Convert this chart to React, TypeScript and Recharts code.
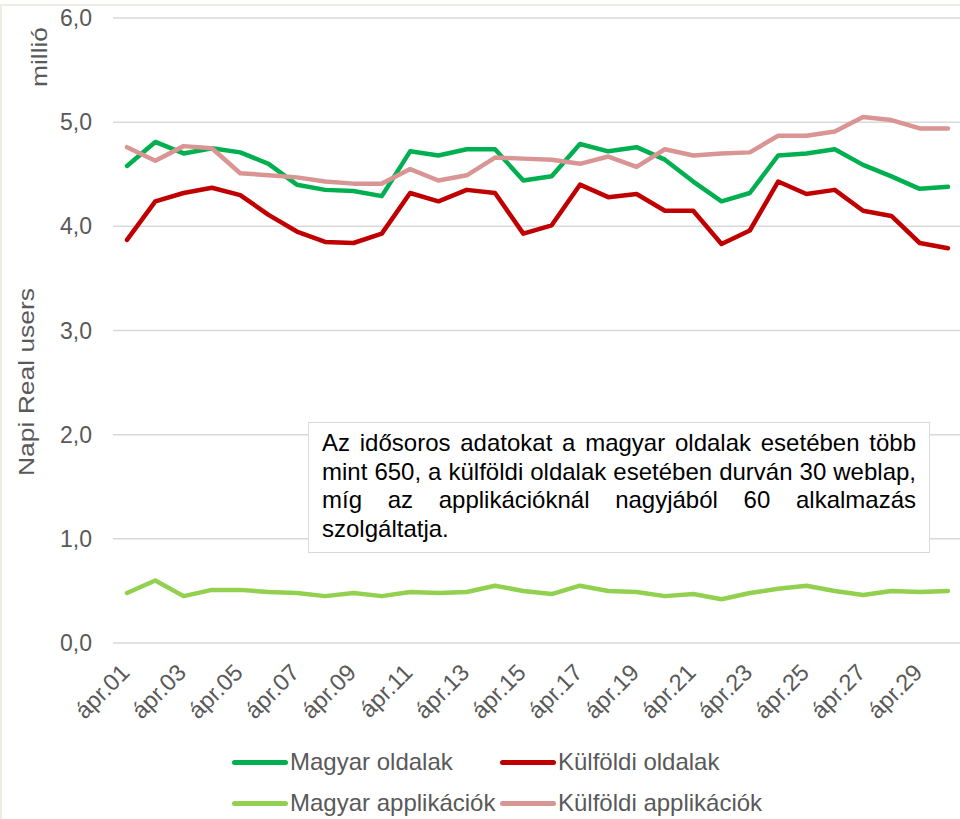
import { CartesianGrid, Legend, Line, LineChart, XAxis, YAxis } from 'recharts'

const days = [
  'ápr.01', 'ápr.02', 'ápr.03', 'ápr.04', 'ápr.05', 'ápr.06', 'ápr.07', 'ápr.08', 'ápr.09', 'ápr.10',
  'ápr.11', 'ápr.12', 'ápr.13', 'ápr.14', 'ápr.15', 'ápr.16', 'ápr.17', 'ápr.18', 'ápr.19', 'ápr.20',
  'ápr.21', 'ápr.22', 'ápr.23', 'ápr.24', 'ápr.25', 'ápr.26', 'ápr.27', 'ápr.28', 'ápr.29', 'ápr.30',
]

const magyarOldalak = [
  4.58, 4.81, 4.7, 4.75, 4.71, 4.6, 4.4, 4.35, 4.34, 4.29,
  4.72, 4.68, 4.74, 4.74, 4.44, 4.48, 4.79, 4.72, 4.76, 4.64,
  4.43, 4.24, 4.32, 4.68, 4.7, 4.74, 4.59, 4.48, 4.36, 4.38,
]
const kulfoldiOldalak = [
  3.87, 4.24, 4.32, 4.37, 4.3, 4.11, 3.95, 3.85, 3.84, 3.93,
  4.32, 4.24, 4.35, 4.32, 3.93, 4.01, 4.4, 4.28, 4.31, 4.15,
  4.15, 3.83, 3.96, 4.43, 4.31, 4.35, 4.15, 4.1, 3.84, 3.79,
]
const magyarApp = [
  0.48, 0.6, 0.45, 0.51, 0.51, 0.49, 0.48, 0.45, 0.48, 0.45,
  0.49, 0.48, 0.49, 0.55, 0.5, 0.47, 0.55, 0.5, 0.49, 0.45,
  0.47, 0.42, 0.48, 0.52, 0.55, 0.5, 0.46, 0.5, 0.49, 0.5,
]
const kulfoldiApp = [
  4.76, 4.63, 4.77, 4.75, 4.51, 4.49, 4.47, 4.43, 4.41, 4.41,
  4.55, 4.44, 4.49, 4.66, 4.65, 4.64, 4.6, 4.67, 4.57, 4.74,
  4.68, 4.7, 4.71, 4.87, 4.87, 4.91, 5.05, 5.02, 4.94, 4.94,
]

const yTicks = [0, 1, 2, 3, 4, 5, 6]

const series = [
  { key: 'magyarOldalak', name: 'Magyar oldalak', color: '#00b050' },
  { key: 'kulfoldiOldalak', name: 'Külföldi oldalak', color: '#c00000' },
  { key: 'magyarApp', name: 'Magyar applikációk', color: '#92d050' },
  { key: 'kulfoldiApp', name: 'Külföldi applikációk', color: '#d99594' },
]

const noteLines = [
  'Az idősoros adatokat a magyar oldalak esetében több',
  'mint 650, a külföldi oldalak esetében durván 30 weblap,',
  'míg az applikációknál nagyjából 60 alkalmazás',
  'szolgáltatja.',
]

const data = days.map((d, i) => ({
  day: d,
  magyarOldalak: magyarOldalak[i],
  kulfoldiOldalak: kulfoldiOldalak[i],
  magyarApp: magyarApp[i],
  kulfoldiApp: kulfoldiApp[i],
}))

const font = '"Liberation Sans", Arial, sans-serif'
const grey = '#595959'

function DayTick({ x, y, payload }: any) {
  const tx = x + 4
  const ty = y + 31
  return (
    <text
      x={tx}
      y={ty}
      transform={`rotate(-45, ${tx}, ${ty})`}
      textAnchor="end"
      fontSize={23.5}
      fontFamily={font}
      fill={grey}
    >
      {payload.value}
    </text>
  )
}

function LegendBox() {
  return (
    <div
      style={{
        display: 'grid',
        gridTemplateColumns: '268px 300px',
        rowGap: 13,
        marginLeft: 232,
        fontFamily: font,
        fontSize: 24,
        color: grey,
        whiteSpace: 'nowrap',
      }}
    >
      {series.map((s) => (
        <div key={s.key} style={{ display: 'flex', alignItems: 'center', height: 28 }}>
          <span style={{ width: 56, height: 5, borderRadius: 3, background: s.color, marginRight: 2 }} />
          <span>{s.name}</span>
        </div>
      ))}
    </div>
  )
}

export default function App() {
  return (
    <div style={{ position: 'absolute', left: 0, top: 0, width: 960, height: 819, background: '#fff', overflow: 'hidden' }}>
      <div
        style={{
          position: 'absolute',
          left: 0,
          top: 4,
          width: 1000,
          height: 900,
          borderLeft: '2px solid #efece3',
          borderTop: '2px solid #efece3',
        }}
      />
      <LineChart width={960} height={819} data={data} margin={{ top: 18, right: 0, bottom: 0, left: 0 }}>
        <CartesianGrid vertical={false} stroke="#d9d9d9" strokeWidth={1.5} />
        <XAxis
          dataKey="day"
          interval={1}
          axisLine={false}
          tickLine={false}
          tickSize={0}
          tickMargin={0}
          height={176}
          padding={{ left: 14, right: 12 }}
          tick={<DayTick />}
        />
        <YAxis
          domain={[0, 6]}
          ticks={yTicks}
          width={113}
          axisLine={false}
          tickLine={false}
          tickSize={6}
          tickMargin={15}
          tickFormatter={(v: number) => v.toFixed(1).replace('.', ',')}
          tick={{ fontSize: 23, fontFamily: font, fill: grey }}
        />
        {series.map((s) => (
          <Line
            key={s.key}
            dataKey={s.key}
            name={s.name}
            stroke={s.color}
            strokeWidth={4.5}
            strokeLinecap="round"
            strokeLinejoin="round"
            dot={false}
            type="linear"
            isAnimationActive={false}
          />
        ))}
        <Legend
          layout="horizontal"
          verticalAlign="middle"
          align="center"
          wrapperStyle={{ top: 748, left: 0, width: 960 }}
          content={() => <LegendBox />}
        />
        <text
          x={34}
          y={382}
          transform="rotate(-90, 34, 382)"
          textAnchor="middle"
          fontSize={22}
          textLength={188}
          lengthAdjust="spacingAndGlyphs"
          fontFamily={font}
          fill={grey}
        >
          Napi Real users
        </text>
        <text
          x={47}
          y={57}
          transform="rotate(-90, 47, 57)"
          textAnchor="middle"
          fontSize={22}
          textLength={60}
          lengthAdjust="spacingAndGlyphs"
          fontFamily={font}
          fill={grey}
        >
          millió
        </text>
      </LineChart>
      <div
        style={{
          position: 'absolute',
          left: 308,
          top: 422,
          width: 622,
          height: 131,
          boxSizing: 'border-box',
          border: '1.5px solid #d9d9d9',
          background: '#fff',
          padding: '6px 13px 0 13px',
          fontFamily: font,
          fontSize: 24,
          lineHeight: '28.5px',
          color: '#000',
        }}
      >
        {noteLines.map((l, i) => (
          <div
            key={i}
            style={{
              textAlign: 'justify',
              textAlignLast: i < noteLines.length - 1 ? 'justify' : 'left',
              whiteSpace: 'nowrap',
            }}
          >
            {l}
          </div>
        ))}
      </div>
    </div>
  )
}
